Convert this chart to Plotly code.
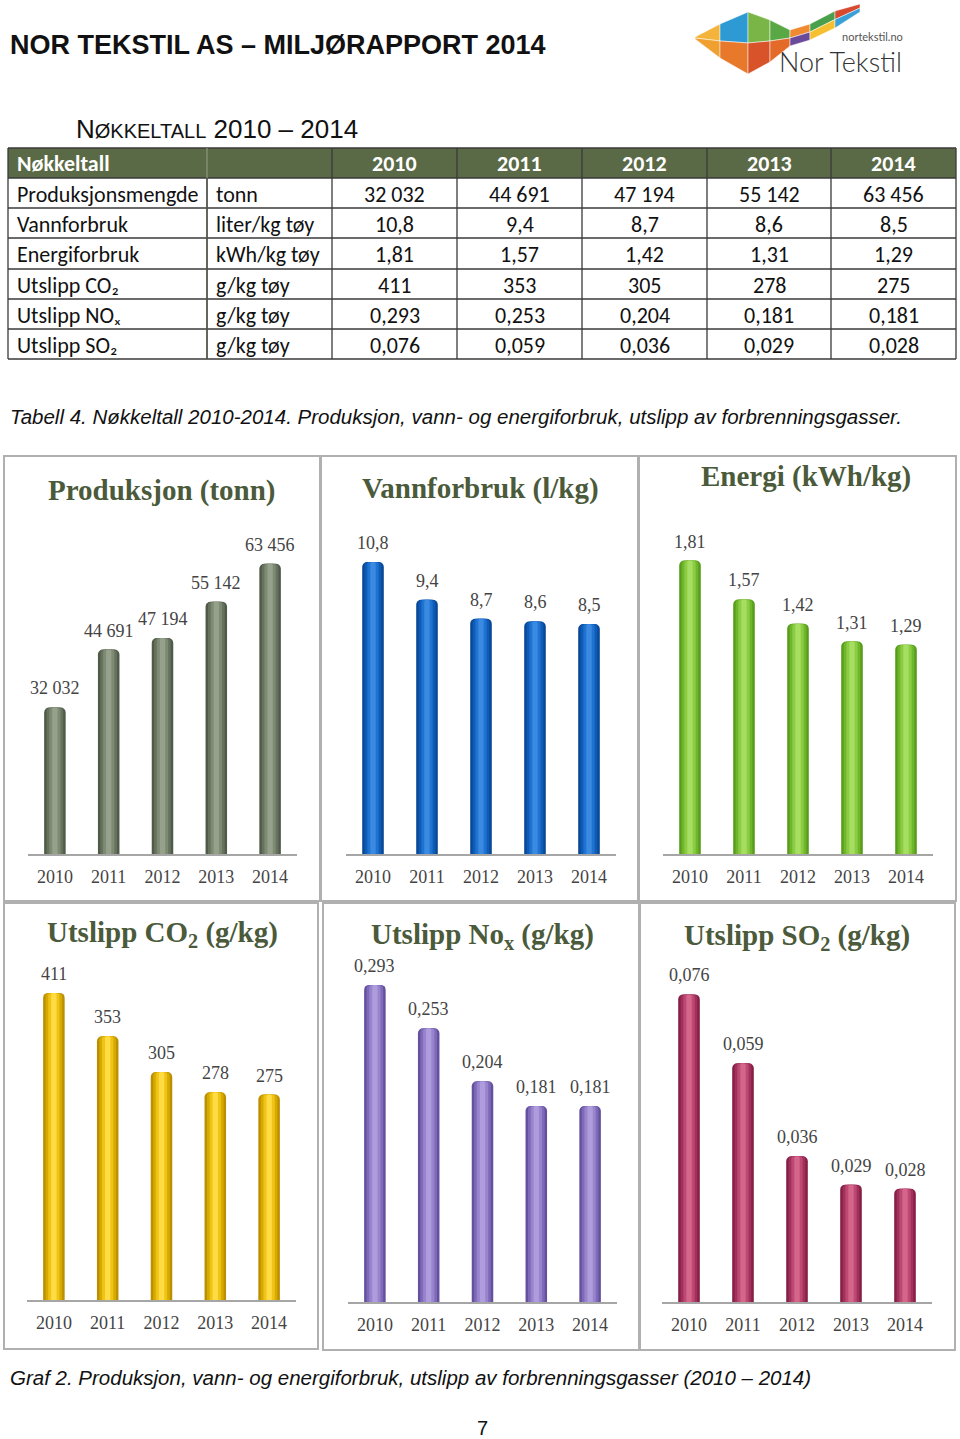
import plotly.graph_objects as go

# ---------------- data ----------------
years = ["2010", "2011", "2012", "2013", "2014"]
produksjon = [32032, 44691, 47194, 55142, 63456]
vannforbruk = [10.8, 9.4, 8.7, 8.6, 8.5]
energiforbruk = [1.81, 1.57, 1.42, 1.31, 1.29]
utslipp_co2 = [411, 353, 305, 278, 275]
utslipp_nox = [0.293, 0.253, 0.204, 0.181, 0.181]
utslipp_so2 = [0.076, 0.059, 0.036, 0.029, 0.028]

row_names = ["Produksjonsmengde", "Vannforbruk", "Energiforbruk",
             "Utslipp CO₂", "Utslipp NOₓ", "Utslipp SO₂"]
row_units = ["tonn", "liter/kg tøy", "kWh/kg tøy", "g/kg tøy", "g/kg tøy", "g/kg tøy"]
row_decimals = [0, 1, 2, 0, 3, 3]

chart_titles = ["Produksjon (tonn)", "Vannforbruk (l/kg)", "Energi (kWh/kg)",
                "Utslipp CO<sub>2</sub> (g/kg)", "Utslipp No<sub>x</sub> (g/kg)",
                "Utslipp SO<sub>2</sub> (g/kg)"]

series = [produksjon, vannforbruk, energiforbruk, utslipp_co2, utslipp_nox, utslipp_so2]


def fmt(v, d):
    if d == 0:
        return f"{v:,.0f}".replace(",", " ")
    return f"{v:.{d}f}".replace(".", ",")


# ---------------- layout helpers (pixels -> paper) ----------------
W, H = 960, 1439


def X(px):
    return px / W


def Y(py):
    return 1 - py / H


# panel geometry / style
panels = [
    dict(x0=28, x1=297, base=854, top=520, ymax=73000, frame=(4, 456, 320, 901), t=(162, 490),
         pal=["#4f5a48", "#66725d", "#7e8a73", "#96a18b"]),
    dict(x0=346, x1=616, base=854, top=520, ymax=12.35, frame=(321, 456, 638, 901), t=(480, 488),
         pal=["#0a4896", "#0d5cb8", "#1f72d0", "#3a8ae2"]),
    dict(x0=663, x1=933, base=854, top=520, ymax=2.06, frame=(639, 456, 956, 901), t=(806, 476),
         pal=["#589c1c", "#6fb62c", "#8bcc42", "#a6de62"]),
    dict(x0=27, x1=296, base=1300, top=960, ymax=455, frame=(4, 903, 318, 1349), t=(162, 934),
         pal=["#bb8f00", "#d6aa00", "#efc416", "#ffdc44"]),
    dict(x0=348, x1=617, base=1302, top=960, ymax=0.316, frame=(323, 903, 640, 1350), t=(482, 936),
         pal=["#64509c", "#7e6ab8", "#9784cc", "#ae9cdc"]),
    dict(x0=662, x1=932, base=1302, top=960, ymax=0.0845, frame=(639, 903, 955, 1350), t=(797, 937),
         pal=["#861f45", "#a2305c", "#bd4972", "#d4668b"]),
]
layer_widths = [0.40, 0.31, 0.21, 0.10]
layer_radius = [5, 4, 3, 2]

serif = "Liberation Serif, Times New Roman, serif"
sans = "Liberation Sans, Arial, sans-serif"
title_color = "#4a5a3a"
label_color = "#444444"

fig = go.Figure()
annotations = []
shapes = []

for k, (p, vals, title) in enumerate(zip(panels, series, chart_titles), start=1):
    xa = "x" if k == 1 else f"x{k}"
    ya = "y" if k == 1 else f"y{k}"
    for w, c, r in zip(layer_widths, p["pal"], layer_radius):
        fig.add_trace(go.Bar(x=years, y=vals, width=w, xaxis=xa, yaxis=ya,
                             marker=dict(color=c, line=dict(width=0), cornerradius=r),
                             showlegend=False, hoverinfo="skip"))
    d = row_decimals[k - 1]
    for i, v in enumerate(vals):
        annotations.append(dict(x=i, y=v, xref=xa, yref=ya, text=fmt(v, d), showarrow=False,
                                yanchor="middle", yshift=19,
                                font=dict(family=serif, size=18, color=label_color)))
    axkey = "xaxis" if k == 1 else f"xaxis{k}"
    aykey = "yaxis" if k == 1 else f"yaxis{k}"
    fig.update_layout(**{
        axkey: dict(domain=[X(p["x0"]), X(p["x1"])], anchor=ya, type="category",
                    range=[-0.5, len(years) - 0.5], automargin=False,
                    showline=True, linecolor="#a6a6a6", linewidth=2, showgrid=False,
                    ticks="outside", ticklen=5, tickcolor="rgba(0,0,0,0)",
                    tickfont=dict(family=serif, size=18, color=label_color), fixedrange=True),
        aykey: dict(domain=[Y(p["base"]), Y(p["top"])], anchor=xa, range=[0, p["ymax"]],
                    visible=False, showgrid=False, automargin=False, fixedrange=True),
    })
    fx0, fy0, fx1, fy1 = p["frame"]
    shapes.append(dict(type="rect", xref="paper", yref="paper", x0=X(fx0), x1=X(fx1),
                       y0=Y(fy1), y1=Y(fy0), line=dict(color="#b0b0b0", width=2),
                       fillcolor="rgba(0,0,0,0)", layer="below"))
    annotations.append(dict(x=X(p["t"][0]), y=Y(p["t"][1]), xref="paper", yref="paper",
                            text=f"<b>{title}</b>", showarrow=False, xanchor="center",
                            yanchor="middle",
                            font=dict(family=serif, size=29, color=title_color)))

# ---------------- table (drawn with shapes + text) ----------------
col_edges = [8, 207, 332, 457, 582, 707, 831, 956]
row_edges = [148, 178, 208, 238, 269, 299, 329, 359]
table_font = "Carlito, Calibri, Lato, sans-serif"
tsize = 22

shapes.append(dict(type="rect", xref="paper", yref="paper", x0=X(col_edges[0]), x1=X(col_edges[-1]),
                   y0=Y(row_edges[1]), y1=Y(row_edges[0]), fillcolor="#5b6a46",
                   line=dict(width=0), layer="below"))
for yy in row_edges:
    shapes.append(dict(type="line", xref="paper", yref="paper", x0=X(col_edges[0]), x1=X(col_edges[-1]),
                       y0=Y(yy), y1=Y(yy), line=dict(color="#3a3a3a", width=1.3)))
for j, xx in enumerate(col_edges):
    shapes.append(dict(type="line", xref="paper", yref="paper", x0=X(xx), x1=X(xx),
                       y0=Y(row_edges[-1]), y1=Y(row_edges[0]),
                       line=dict(color="#8a9478" if j == 1 else "#3a3a3a", width=1.3)))
    if j == 1:
        shapes.append(dict(type="line", xref="paper", yref="paper", x0=X(xx), x1=X(xx),
                           y0=Y(row_edges[-1]), y1=Y(row_edges[1]),
                           line=dict(color="#3a3a3a", width=1.3)))


def cell_text(txt, r, c, bold=False, color="#111111"):
    yc = (row_edges[r] + row_edges[r + 1]) / 2
    if c < 2:
        xpos, anchor = col_edges[c] + 7, "left"
    else:
        xpos, anchor = (col_edges[c] + col_edges[c + 1]) / 2, "center"
    annotations.append(dict(x=X(xpos), y=Y(yc + 1), xref="paper", yref="paper", xanchor=anchor,
                            yanchor="middle", showarrow=False,
                            text=f"<b>{txt}</b>" if bold else txt,
                            font=dict(family=table_font, size=tsize, color=color)))


cell_text("Nøkkeltall", 0, 0, bold=True, color="white")
for c, yr in enumerate(years):
    cell_text(yr, 0, c + 2, bold=True, color="white")
for r in range(len(row_names)):
    cell_text(row_names[r], r + 1, 0)
    cell_text(row_units[r], r + 1, 1)
    for c in range(len(years)):
        cell_text(fmt(series[r][c], row_decimals[r]), r + 1, c + 2)

# ---------------- page texts ----------------
annotations += [
    dict(x=X(8), y=Y(45), xref="paper", yref="paper", xanchor="left", yanchor="middle",
         showarrow=False, text="<b>NOR TEKSTIL AS – MILJØRAPPORT 2014</b>",
         font=dict(family=sans, size=27, color="#111111")),
    dict(x=X(74), y=Y(129), xref="paper", yref="paper", xanchor="left", yanchor="middle",
         showarrow=False,
         text="N<span style='font-size:20px'>ØKKELTALL</span> 2010 – 2014",
         font=dict(family=sans, size=26, color="#111111")),
    dict(x=X(8), y=Y(417), xref="paper", yref="paper", xanchor="left", yanchor="middle",
         showarrow=False,
         text="<i>Tabell 4. Nøkkeltall 2010-2014. Produksjon, vann- og energiforbruk, utslipp av forbrenningsgasser.</i>",
         font=dict(family=sans, size=20.5, color="#111111")),
    dict(x=X(8), y=Y(1377), xref="paper", yref="paper", xanchor="left", yanchor="middle",
         showarrow=False,
         text="<i>Graf 2. Produksjon, vann- og energiforbruk, utslipp av forbrenningsgasser (2010 – 2014)</i>",
         font=dict(family=sans, size=20.5, color="#111111")),
    dict(x=X(482), y=Y(1428), xref="paper", yref="paper", xanchor="center", yanchor="middle",
         showarrow=False, text="7", font=dict(family=sans, size=20, color="#111111")),
    dict(x=X(905), y=Y(36), xref="paper", yref="paper", xanchor="right", yanchor="middle",
         showarrow=False, text="nortekstil.no", font=dict(family="Lato, sans-serif", size=11, color="#555555")),
    dict(x=X(904), y=Y(62), xref="paper", yref="paper", xanchor="right", yanchor="middle",
         showarrow=False, text="Nor Tekstil",
         font=dict(family="Lato, sans-serif", size=27, color="#333333", weight=300)),
]

# ---------------- logo ribbon (decoration) ----------------
lx = [695, 720, 748, 770, 790, 810, 835, 860]
ltop = [37, 24, 12, 20, 30, 24, 11, 4]
lbot = [39, 58, 74, 62, 46, 40, 28, 12]
lmid = [(a + b) / 2 for a, b in zip(ltop, lbot)]
up_cols = ["#f4b43c", "#2e9ad4", "#7ab548", "#5aa845", "#f08a30", "#4aa04a", "#d84a30"]
lo_cols = ["#f0a030", "#e8782a", "#d9532a", "#e46a2a", "#6a4a9a", "#f5c030", "#3aa0d8"]


def poly(pts):
    return "M " + " L ".join(f"{X(a):.5f},{Y(b):.5f}" for a, b in pts) + " Z"


for i in range(len(lx) - 1):
    shapes.append(dict(type="path", xref="paper", yref="paper", line=dict(width=0.5, color="white"),
                       fillcolor=up_cols[i],
                       path=poly([(lx[i], ltop[i]), (lx[i + 1], ltop[i + 1]),
                                  (lx[i + 1], lmid[i + 1]), (lx[i], lmid[i])])))
    shapes.append(dict(type="path", xref="paper", yref="paper", line=dict(width=0.5, color="white"),
                       fillcolor=lo_cols[i],
                       path=poly([(lx[i], lmid[i]), (lx[i + 1], lmid[i + 1]),
                                  (lx[i + 1], lbot[i + 1]), (lx[i], lbot[i])])))

fig.update_layout(
    width=W, height=H, margin=dict(l=0, r=0, t=0, b=0, autoexpand=False),
    paper_bgcolor="white", plot_bgcolor="rgba(0,0,0,0)",
    barmode="overlay", showlegend=False,
    annotations=annotations, shapes=shapes,
)

fig.write_html("out.html", config={"displayModeBar": False},
               post_script="document.body.style.margin='0';document.body.style.overflow='hidden';")
